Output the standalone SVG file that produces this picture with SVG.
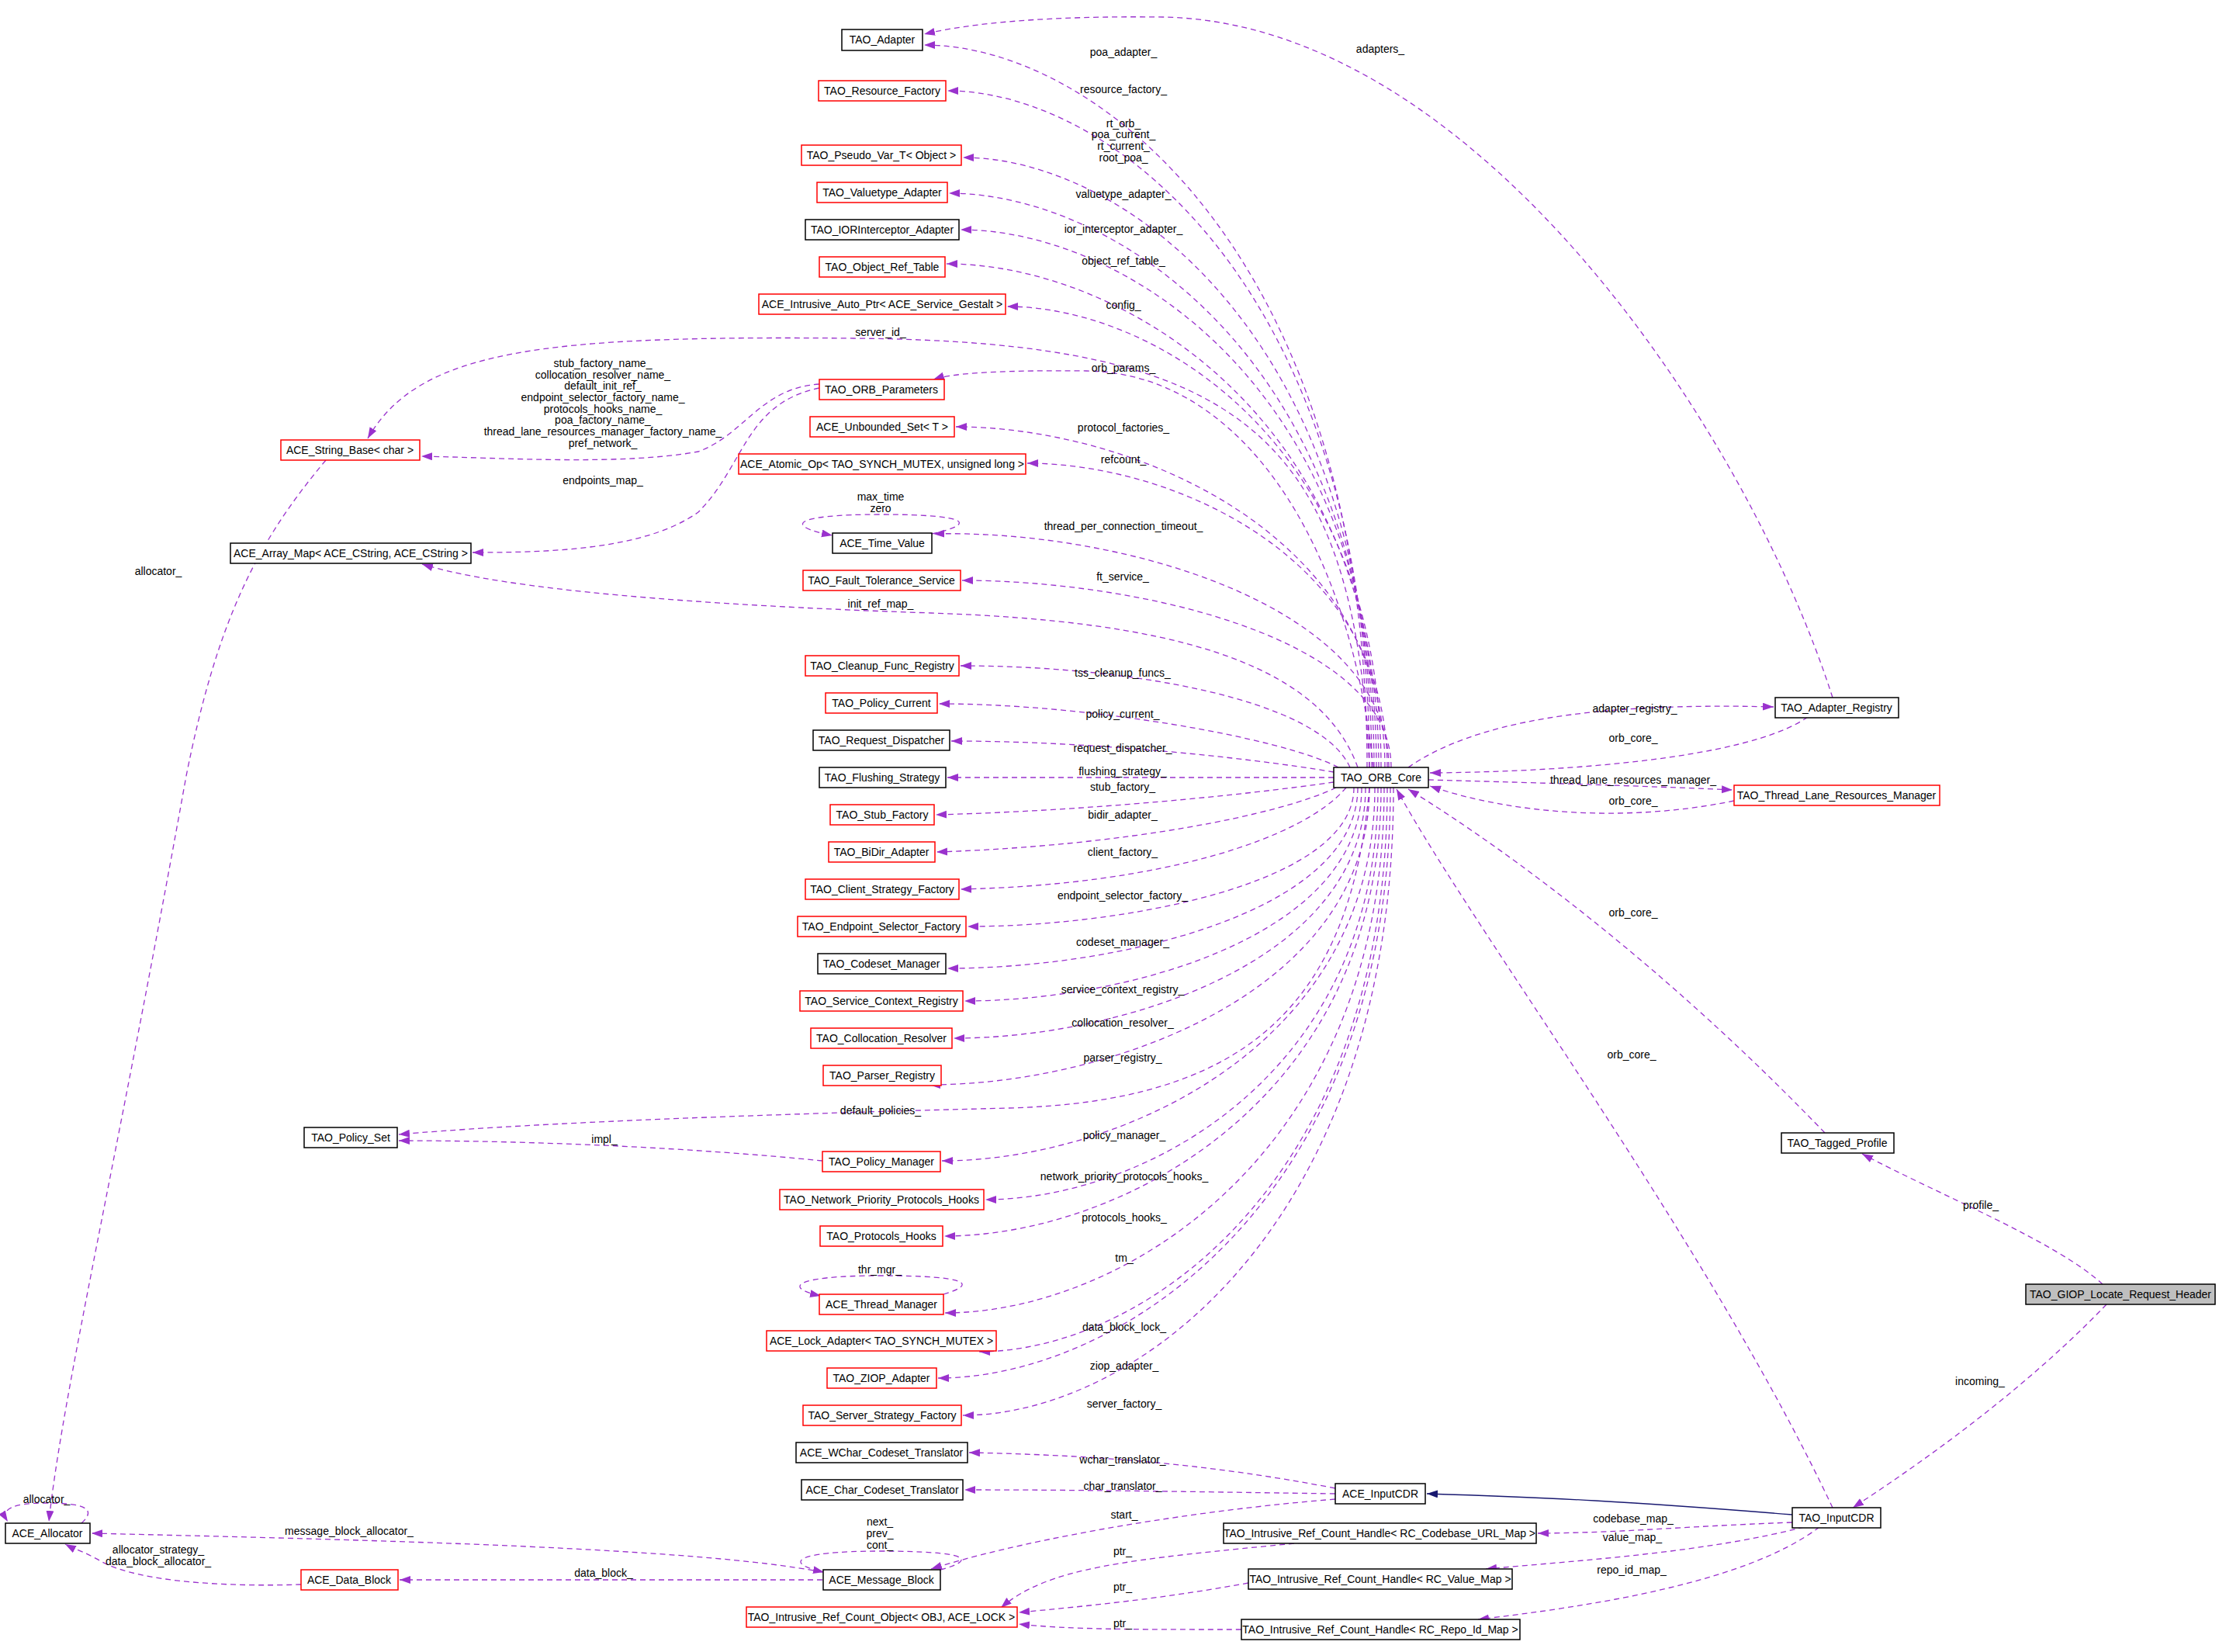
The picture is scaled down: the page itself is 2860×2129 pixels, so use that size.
<svg xmlns="http://www.w3.org/2000/svg" width="2860" height="2129" viewBox="0 0 2860 2129">
<style>
text{font-family:"Liberation Sans",Arial,sans-serif;font-size:14px;fill:#000}
.n text{text-anchor:middle}
.n rect{fill:#fff;stroke:#000;stroke-width:1.5}
.n.r rect{stroke:#ff0000}
.n.g rect{fill:#bfbfbf}
.e path{fill:none;stroke:#9a32cd;stroke-width:1.3;stroke-dasharray:7,5;marker-end:url(#a)}
.e path.inh{stroke:#191970;stroke-dasharray:none;marker-end:url(#b)}
.l text{text-anchor:middle}
</style>
<defs>
<marker id="a" markerUnits="userSpaceOnUse" markerWidth="15" markerHeight="11" refX="14" refY="5" orient="auto"><path d="M0,0 L14,5 L0,10 z" fill="#9a32cd"/></marker>
<marker id="b" markerUnits="userSpaceOnUse" markerWidth="15" markerHeight="11" refX="14" refY="5" orient="auto"><path d="M0,0 L14,5 L0,10 z" fill="#191970"/></marker>
</defs>
<rect width="2860" height="2129" fill="#fff"/>
<g id="edges" class="e">
<path d="M1762 989 C1762 337 1418 58 1191 58"/>
<path d="M1765 989 C1765 379 1437 117 1221 117"/>
<path d="M1768 989 C1768 439 1451 203 1241 203"/>
<path d="M1771 989 C1771 471 1441 249 1223 249"/>
<path d="M1774 989 C1774 504 1451 296 1238 296"/>
<path d="M1777 989 C1777 535 1442 340 1220 340"/>
<path d="M1780 989 C1780 573 1490 395 1298 395"/>
<path d="M1765 989 C1745 560 1600 440 1100 436 C700 432 540 450 474 565"/>
<path d="M1770 989 C1740 700 1600 480 1400 478 C1300 477 1230 480 1203 489"/>
<path d="M1785 989 C1785 682 1452 550 1232 550"/>
<path d="M1788 989 C1788 715 1508 597 1324 597"/>
<path d="M1790 989 C1790 778 1438 682 1203 688"/>
<path d="M1793 989 C1793 820 1460 748 1240 748"/>
<path d="M1750 989 C1700 850 1500 800 1200 790 C900 780 650 760 544 727"/>
<path d="M1740 989 C1700 900 1450 858 1238 858"/>
<path d="M1725 989 C1650 950 1400 907 1210 907"/>
<path d="M1719 995 C1600 975 1400 955 1226 955"/>
<path d="M1719 1002 L1221 1002"/>
<path d="M1719 1008 C1600 1025 1400 1045 1206 1050"/>
<path d="M1722 1015 C1650 1050 1450 1090 1207 1098"/>
<path d="M1735 1015 C1680 1080 1500 1140 1238 1146"/>
<path d="M1745 1015 C1745 1140 1445 1194 1247 1194"/>
<path d="M1750 1015 C1750 1178 1433 1248 1221 1248"/>
<path d="M1755 1015 C1755 1208 1448 1290 1243 1290"/>
<path d="M1760 1015 C1760 1241 1441 1338 1229 1338"/>
<path d="M1765 1015 C1765 1280 1426 1398 1198 1398"/>
<path d="M1765 1015 C1740 1300 1600 1420 1300 1428 C900 1438 650 1450 514 1462"/>
<path d="M1772 1015 C1772 1352 1437 1496 1214 1496"/>
<path d="M1776 1015 C1776 1387 1472 1546 1270 1546"/>
<path d="M1780 1015 C1780 1420 1442 1593 1217 1593"/>
<path d="M1784 1015 C1784 1489 1444 1692 1218 1692"/>
<path d="M1788 1015 C1788 1524 1472 1742 1262 1742"/>
<path d="M1792 1015 C1792 1548 1442 1776 1209 1776"/>
<path d="M1796 1015 C1796 1581 1463 1824 1241 1824"/>
<path d="M2362 899 C2250 550 1900 30 1500 22 C1350 20 1250 30 1191 44"/>
<path d="M1815 989 C1900 930 2050 905 2286 911"/>
<path d="M2330 924 C2250 980 2000 995 1843 996"/>
<path d="M1841 1005 C1950 1008 2100 1012 2233 1018"/>
<path d="M2235 1032 C2100 1060 1950 1050 1843 1013"/>
<path d="M2352 1460 C2150 1250 1950 1100 1815 1017"/>
<path d="M2362 1943 C2200 1600 1900 1200 1800 1017"/>
<path d="M2710 1655 C2650 1600 2500 1540 2400 1487"/>
<path d="M2715 1681 C2620 1780 2500 1870 2388 1943"/>
<path class="inh" d="M2310 1952 C2100 1935 2000 1930 1839 1925"/>
<path d="M2310 1962 C2150 1968 2100 1975 1982 1976"/>
<path d="M2325 1968 C2200 2000 2050 2010 1915 2022"/>
<path d="M2345 1968 C2250 2040 2050 2070 1905 2087"/>
<path d="M1721 1918 C1550 1885 1400 1875 1249 1872"/>
<path d="M1721 1925 C1500 1922 1400 1920 1243 1920"/>
<path d="M1721 1932 C1500 1950 1300 1990 1200 2022"/>
<path d="M1680 1988 C1450 2010 1350 2020 1290 2072"/>
<path d="M1609 2040 C1500 2060 1400 2070 1313 2078"/>
<path d="M1600 2100 C1450 2100 1380 2100 1313 2093"/>
<path d="M1056 495 C980 500 960 560 900 582 C800 600 650 590 543 588"/>
<path d="M1056 500 C960 520 960 600 900 660 C830 710 700 712 609 712"/>
<path d="M420 593 C330 700 280 800 240 1000 C150 1500 80 1800 63 1961"/>
<path d="M105 1963 C125 1945 110 1937 60 1937 C15 1937 0 1945 10 1961"/>
<path d="M1060 2026 C900 1995 500 1985 118 1976"/>
<path d="M388 2042 C300 2045 180 2040 130 2012 C105 1998 95 1996 84 1990"/>
<path d="M1060 2036 L515 2036"/>
<path d="M1216 1668 C1260 1655 1250 1644 1135 1644 C1020 1644 1010 1660 1058 1670"/>
<path d="M1201 688 C1260 675 1250 663 1135 663 C1020 663 1010 678 1073 690"/>
<path d="M1212 2023 C1260 2010 1250 1999 1135 1999 C1020 1999 1010 2015 1062 2026"/>
<path d="M1060 1496 C900 1480 700 1470 514 1470"/>
</g>
<g id="labels" class="l">
<text x="1448" y="72">poa_adapter_</text>
<text x="1779" y="68">adapters_</text>
<text x="1448" y="120">resource_factory_</text>
<text x="1448" y="164">rt_orb_</text>
<text x="1448" y="178">poa_current_</text>
<text x="1448" y="193">rt_current_</text>
<text x="1448" y="208">root_poa_</text>
<text x="1448" y="255">valuetype_adapter_</text>
<text x="1448" y="300">ior_interceptor_adapter_</text>
<text x="1448" y="341">object_ref_table_</text>
<text x="1448" y="398">config_</text>
<text x="1135" y="433">server_id_</text>
<text x="1448" y="479">orb_params_</text>
<text x="1448" y="556">protocol_factories_</text>
<text x="1448" y="597">refcount_</text>
<text x="1135" y="645">max_time</text>
<text x="1135" y="660">zero</text>
<text x="1448" y="683">thread_per_connection_timeout_</text>
<text x="1447" y="748">ft_service_</text>
<text x="1135" y="783">init_ref_map_</text>
<text x="1447" y="872">tss_cleanup_funcs_</text>
<text x="1447" y="925">policy_current_</text>
<text x="1447" y="969">request_dispatcher_</text>
<text x="1447" y="999">flushing_strategy_</text>
<text x="1447" y="1019">stub_factory_</text>
<text x="1447" y="1055">bidir_adapter_</text>
<text x="1447" y="1103">client_factory_</text>
<text x="1447" y="1159">endpoint_selector_factory_</text>
<text x="1447" y="1219">codeset_manager_</text>
<text x="1447" y="1280">service_context_registry_</text>
<text x="1447" y="1323">collocation_resolver_</text>
<text x="1447" y="1368">parser_registry_</text>
<text x="1135" y="1436">default_policies_</text>
<text x="779" y="1473">impl_</text>
<text x="1449" y="1468">policy_manager_</text>
<text x="1449" y="1521">network_priority_protocols_hooks_</text>
<text x="1449" y="1574">protocols_hooks_</text>
<text x="1449" y="1626">tm_</text>
<text x="1134" y="1641">thr_mgr_</text>
<text x="1449" y="1715">data_block_lock_</text>
<text x="1449" y="1765">ziop_adapter_</text>
<text x="1449" y="1814">server_factory_</text>
<text x="1447" y="1886">wchar_translator_</text>
<text x="1447" y="1920">char_translator_</text>
<text x="1449" y="1957">start_</text>
<text x="1134" y="1966">next_</text>
<text x="1134" y="1981">prev_</text>
<text x="1134" y="1996">cont_</text>
<text x="1447" y="2004">ptr_</text>
<text x="1447" y="2050">ptr_</text>
<text x="1447" y="2097">ptr_</text>
<text x="777" y="473">stub_factory_name_</text>
<text x="777" y="488">collocation_resolver_name_</text>
<text x="777" y="502">default_init_ref_</text>
<text x="777" y="517">endpoint_selector_factory_name_</text>
<text x="777" y="532">protocols_hooks_name_</text>
<text x="777" y="546">poa_factory_name_</text>
<text x="777" y="561">thread_lane_resources_manager_factory_name_</text>
<text x="777" y="576">pref_network_</text>
<text x="777" y="624">endpoints_map_</text>
<text x="204" y="741">allocator_</text>
<text x="60" y="1937">allocator_</text>
<text x="450" y="1978">message_block_allocator_</text>
<text x="204" y="2002">allocator_strategy_</text>
<text x="204" y="2017">data_block_allocator_</text>
<text x="778" y="2032">data_block_</text>
<text x="2107" y="918">adapter_registry_</text>
<text x="2105" y="956">orb_core_</text>
<text x="2105" y="1010">thread_lane_resources_manager_</text>
<text x="2105" y="1037">orb_core_</text>
<text x="2105" y="1181">orb_core_</text>
<text x="2103" y="1364">orb_core_</text>
<text x="2553" y="1558">profile_</text>
<text x="2552" y="1785">incoming_</text>
<text x="2105" y="1962">codebase_map_</text>
<text x="2104" y="1986">value_map_</text>
<text x="2103" y="2028">repo_id_map_</text>
</g>
<g id="n_adapter" class="n"><rect x="1085" y="38" width="104" height="27"/><text x="1137" y="56">TAO_Adapter</text></g>
<g id="n_resfac" class="n r"><rect x="1055" y="104" width="164" height="26"/><text x="1137" y="122">TAO_Resource_Factory</text></g>
<g id="n_pseudo" class="n r"><rect x="1033" y="187" width="206" height="26"/><text x="1136" y="205">TAO_Pseudo_Var_T&lt; Object &gt;</text></g>
<g id="n_valuetype" class="n r"><rect x="1053" y="235" width="168" height="26"/><text x="1137" y="253">TAO_Valuetype_Adapter</text></g>
<g id="n_ior" class="n"><rect x="1038" y="283" width="198" height="26"/><text x="1137" y="301">TAO_IORInterceptor_Adapter</text></g>
<g id="n_objref" class="n r"><rect x="1056" y="331" width="162" height="26"/><text x="1137" y="349">TAO_Object_Ref_Table</text></g>
<g id="n_autoptr" class="n r"><rect x="978" y="379" width="318" height="26"/><text x="1137" y="397">ACE_Intrusive_Auto_Ptr&lt; ACE_Service_Gestalt &gt;</text></g>
<g id="n_orbparams" class="n r"><rect x="1056" y="489" width="161" height="26"/><text x="1136" y="507">TAO_ORB_Parameters</text></g>
<g id="n_unbounded" class="n r"><rect x="1044" y="537" width="186" height="26"/><text x="1137" y="555">ACE_Unbounded_Set&lt; T &gt;</text></g>
<g id="n_atomic" class="n r"><rect x="952" y="585" width="370" height="26"/><text x="1137" y="603">ACE_Atomic_Op&lt; TAO_SYNCH_MUTEX, unsigned long &gt;</text></g>
<g id="n_timevalue" class="n"><rect x="1073" y="687" width="128" height="26"/><text x="1137" y="705">ACE_Time_Value</text></g>
<g id="n_ft" class="n r"><rect x="1035" y="735" width="203" height="26"/><text x="1136" y="753">TAO_Fault_Tolerance_Service</text></g>
<g id="n_cleanup" class="n r"><rect x="1038" y="845" width="198" height="26"/><text x="1137" y="863">TAO_Cleanup_Func_Registry</text></g>
<g id="n_polcur" class="n r"><rect x="1064" y="893" width="144" height="26"/><text x="1136" y="911">TAO_Policy_Current</text></g>
<g id="n_reqdisp" class="n"><rect x="1048" y="941" width="176" height="26"/><text x="1136" y="959">TAO_Request_Dispatcher</text></g>
<g id="n_flush" class="n"><rect x="1056" y="989" width="163" height="26"/><text x="1137" y="1007">TAO_Flushing_Strategy</text></g>
<g id="n_stub" class="n r"><rect x="1070" y="1037" width="134" height="26"/><text x="1137" y="1055">TAO_Stub_Factory</text></g>
<g id="n_bidir" class="n r"><rect x="1068" y="1085" width="137" height="26"/><text x="1136" y="1103">TAO_BiDir_Adapter</text></g>
<g id="n_clientsf" class="n r"><rect x="1038" y="1133" width="198" height="26"/><text x="1137" y="1151">TAO_Client_Strategy_Factory</text></g>
<g id="n_endpoint" class="n r"><rect x="1028" y="1181" width="217" height="26"/><text x="1136" y="1199">TAO_Endpoint_Selector_Factory</text></g>
<g id="n_codeset" class="n"><rect x="1054" y="1229" width="165" height="26"/><text x="1136" y="1247">TAO_Codeset_Manager</text></g>
<g id="n_servctx" class="n r"><rect x="1031" y="1277" width="210" height="26"/><text x="1136" y="1295">TAO_Service_Context_Registry</text></g>
<g id="n_colloc" class="n r"><rect x="1045" y="1325" width="182" height="26"/><text x="1136" y="1343">TAO_Collocation_Resolver</text></g>
<g id="n_parser" class="n r"><rect x="1061" y="1373" width="152" height="26"/><text x="1137" y="1391">TAO_Parser_Registry</text></g>
<g id="n_policyset" class="n"><rect x="392" y="1453" width="120" height="26"/><text x="452" y="1471">TAO_Policy_Set</text></g>
<g id="n_polmgr" class="n r"><rect x="1060" y="1484" width="152" height="26"/><text x="1136" y="1502">TAO_Policy_Manager</text></g>
<g id="n_npph" class="n r"><rect x="1005" y="1533" width="263" height="26"/><text x="1136" y="1551">TAO_Network_Priority_Protocols_Hooks</text></g>
<g id="n_prothooks" class="n r"><rect x="1057" y="1580" width="158" height="26"/><text x="1136" y="1598">TAO_Protocols_Hooks</text></g>
<g id="n_thrmgr" class="n r"><rect x="1056" y="1668" width="160" height="26"/><text x="1136" y="1686">ACE_Thread_Manager</text></g>
<g id="n_lock" class="n r"><rect x="988" y="1715" width="296" height="26"/><text x="1136" y="1733">ACE_Lock_Adapter&lt; TAO_SYNCH_MUTEX &gt;</text></g>
<g id="n_ziop" class="n r"><rect x="1066" y="1763" width="141" height="26"/><text x="1136" y="1781">TAO_ZIOP_Adapter</text></g>
<g id="n_serversf" class="n r"><rect x="1035" y="1811" width="204" height="26"/><text x="1137" y="1829">TAO_Server_Strategy_Factory</text></g>
<g id="n_wchar" class="n"><rect x="1026" y="1859" width="221" height="26"/><text x="1136" y="1877">ACE_WChar_Codeset_Translator</text></g>
<g id="n_char" class="n"><rect x="1033" y="1907" width="208" height="26"/><text x="1137" y="1925">ACE_Char_Codeset_Translator</text></g>
<g id="n_msgblock" class="n"><rect x="1061" y="2023" width="151" height="26"/><text x="1136" y="2041">ACE_Message_Block</text></g>
<g id="n_rcobj" class="n r"><rect x="962" y="2071" width="349" height="26"/><text x="1136" y="2089">TAO_Intrusive_Ref_Count_Object&lt; OBJ, ACE_LOCK &gt;</text></g>
<g id="n_strbase" class="n r"><rect x="362" y="567" width="179" height="26"/><text x="451" y="585">ACE_String_Base&lt; char &gt;</text></g>
<g id="n_arraymap" class="n"><rect x="297" y="700" width="310" height="26"/><text x="452" y="718">ACE_Array_Map&lt; ACE_CString, ACE_CString &gt;</text></g>
<g id="n_allocator" class="n"><rect x="7" y="1963" width="109" height="26"/><text x="61" y="1981">ACE_Allocator</text></g>
<g id="n_datablock" class="n r"><rect x="388" y="2023" width="125" height="26"/><text x="450" y="2041">ACE_Data_Block</text></g>
<g id="n_orbcore" class="n"><rect x="1719" y="989" width="122" height="26"/><text x="1780" y="1007">TAO_ORB_Core</text></g>
<g id="n_adreg" class="n"><rect x="2288" y="899" width="159" height="26"/><text x="2367" y="917">TAO_Adapter_Registry</text></g>
<g id="n_tlrm" class="n r"><rect x="2235" y="1012" width="265" height="26"/><text x="2367" y="1030">TAO_Thread_Lane_Resources_Manager</text></g>
<g id="n_tagged" class="n"><rect x="2296" y="1460" width="145" height="26"/><text x="2368" y="1478">TAO_Tagged_Profile</text></g>
<g id="n_giop" class="n g"><rect x="2611" y="1655" width="244" height="26"/><text x="2733" y="1673">TAO_GIOP_Locate_Request_Header</text></g>
<g id="n_aceinput" class="n"><rect x="1721" y="1912" width="116" height="26"/><text x="1779" y="1930">ACE_InputCDR</text></g>
<g id="n_taoinput" class="n"><rect x="2310" y="1943" width="114" height="26"/><text x="2367" y="1961">TAO_InputCDR</text></g>
<g id="n_rccodebase" class="n"><rect x="1577" y="1963" width="403" height="26"/><text x="1778" y="1981">TAO_Intrusive_Ref_Count_Handle&lt; RC_Codebase_URL_Map &gt;</text></g>
<g id="n_rcvalue" class="n"><rect x="1609" y="2022" width="340" height="26"/><text x="1779" y="2040">TAO_Intrusive_Ref_Count_Handle&lt; RC_Value_Map &gt;</text></g>
<g id="n_rcrepo" class="n"><rect x="1600" y="2087" width="359" height="26"/><text x="1779" y="2105">TAO_Intrusive_Ref_Count_Handle&lt; RC_Repo_Id_Map &gt;</text></g>
</svg>
